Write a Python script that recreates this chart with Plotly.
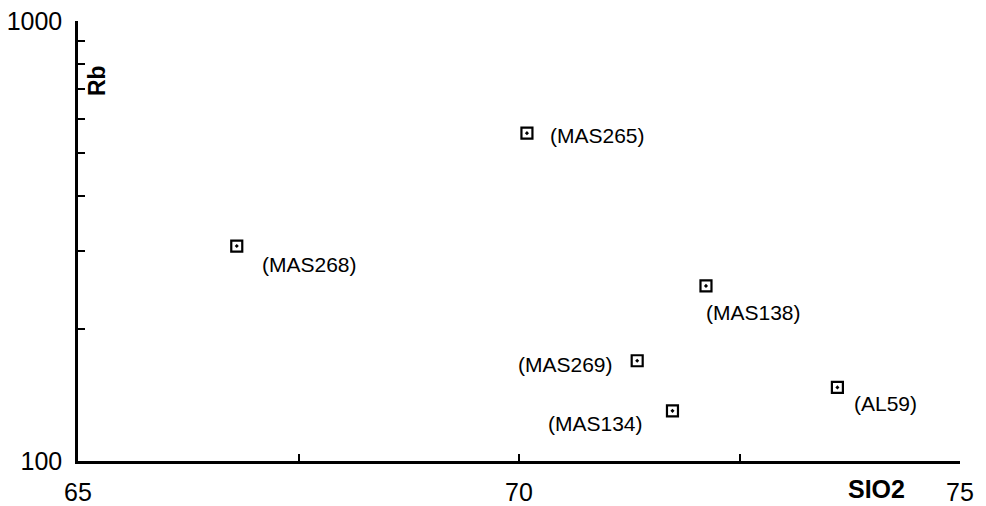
import math
import plotly.graph_objects as go

samples = ["MAS268", "MAS265", "MAS138", "MAS269", "MAS134", "AL59"]
sio2 = [66.80, 70.09, 72.12, 71.34, 71.74, 73.61]
rb = [308, 556, 250, 169, 130, 147]
# label placement offsets (pixels) and anchors
label_dx = [23, 21, -2, -22, -27, 15]
label_dy = [-18, -2, -27, -4, -13, -16]
label_anchor = ["left", "left", "left", "right", "right", "left"]

x_ticks = [65, 67.5, 70, 72.5, 75]
x_ticktext = ["65", "", "70", "", "75"]
y_ticks = [100, 200, 300, 400, 500, 600, 700, 800, 900, 1000]
y_ticktext = ["100", "", "", "", "", "", "", "", "", "1000"]

FONT = "Liberation Sans, Arial"

fig = go.Figure()
fig.add_trace(go.Scatter(
    x=sio2, y=rb, mode="markers",
    marker=dict(symbol="square-open-dot", size=11, color="black",
                line=dict(color="black", width=2.2)),
    showlegend=False, hoverinfo="skip",
))

annotations = []
for s, x, y, dx, dy, a in zip(samples, sio2, rb, label_dx, label_dy, label_anchor):
    annotations.append(dict(
        x=x, y=math.log10(y), xref="x", yref="y", text=f"({s})", showarrow=False,
        xanchor=a, yanchor="middle", xshift=dx, yshift=dy,
        font=dict(family=FONT, size=21, color="black"),
    ))
annotations.append(dict(
    x=0, y=1, xref="paper", yref="paper", text="<b>Rb</b>", textangle=-90,
    showarrow=False, xanchor="center", yanchor="middle", xshift=19, yshift=-60,
    font=dict(family=FONT, size=23, color="black"),
))
annotations.append(dict(
    x=0.905, y=0, xref="paper", yref="paper", text="<b>SIO2</b>",
    showarrow=False, xanchor="center", yanchor="middle", yshift=-28,
    borderpad=0,
    font=dict(family=FONT, size=25, color="black"),
))

fig.update_layout(
    width=978, height=498,
    margin=dict(l=70, r=26, t=13, b=45),
    paper_bgcolor="white", plot_bgcolor="white",
    font=dict(family=FONT, size=25, color="black"),
    annotations=annotations,
    xaxis=dict(
        range=[65, 75], showgrid=False, zeroline=False, automargin=False,
        showline=True, linecolor="black", linewidth=2.5,
        ticks="inside", ticklen=7, tickwidth=2, tickcolor="black",
        tickvals=x_ticks, ticktext=x_ticktext, ticklabelstandoff=7,
        ticklabeloverflow="allow",
    ),
    yaxis=dict(
        type="log", range=[2, 3], showgrid=False, zeroline=False, automargin=False,
        showline=True, linecolor="black", linewidth=2.5,
        ticks="inside", ticklen=7, tickwidth=2, tickcolor="black",
        tickvals=y_ticks, ticktext=y_ticktext, ticklabelstandoff=8,
        ticklabeloverflow="allow",
    ),
)

fig.write_html("out.html")
